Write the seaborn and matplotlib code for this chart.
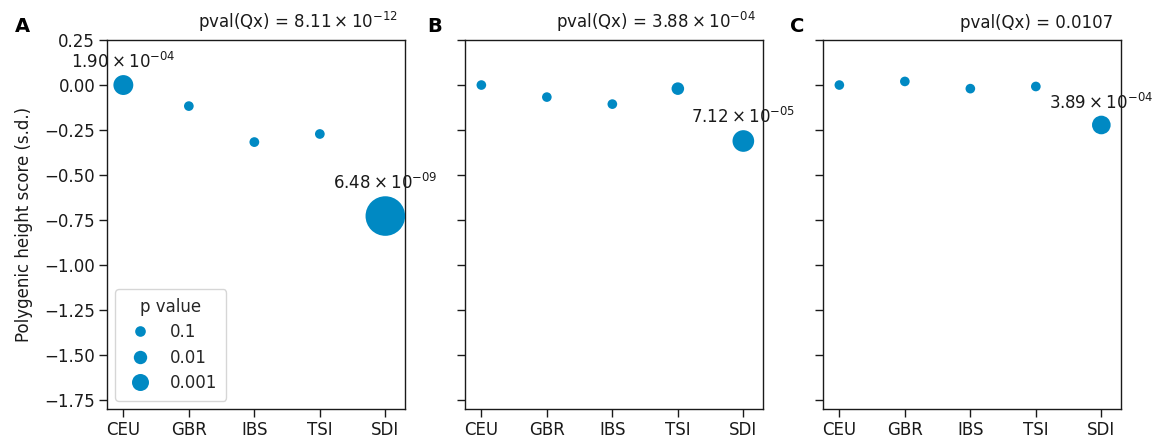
import numpy as np
import pandas as pd
import matplotlib
matplotlib.use("Agg")
import matplotlib.pyplot as plt
from matplotlib.lines import Line2D
import seaborn as sns

# ---------------- data ----------------
populations = ["CEU", "GBR", "IBS", "TSI", "SDI"]
panel_letters = ["A", "B", "C"]

scores_a = [0.00, -0.117, -0.317, -0.272, -0.728]
scores_b = [0.00, -0.067, -0.106, -0.020, -0.311]
scores_c = [0.00, 0.020, -0.020, -0.008, -0.222]

pvals_a = [1.90e-04, 0.45, 0.35, 0.40, 6.48e-09]
pvals_b = [0.50, 0.55, 0.45, 0.018, 7.12e-05]
pvals_c = [0.55, 0.50, 0.50, 0.45, 3.89e-04]

qx_pvals = [8.11e-12, 3.88e-04, 0.0107]

legend_pvals = [0.1, 0.01, 0.001]
label_threshold = 0.001

ytick_values = [0.25, 0.00, -0.25, -0.50, -0.75, -1.00, -1.25, -1.50, -1.75]

# ---------------- style ----------------
sns.set_style("ticks")
plt.rcParams["font.family"] = ["DejaVu Sans"]
plt.rcParams["mathtext.fontset"] = "dejavusans"
FS = 12
COLOR = "#0089C3"
TEXTC = "#1a1a1a"


def marker_area(p):
    L = -np.log10(p)
    return 0.5184 * (91.0 + 22.0 * L ** 2)


def sci(p):
    e = int(np.floor(np.log10(p)))
    m = p / 10.0 ** e
    return r"$%.2f \times 10^{%s}$" % (m, "%03d" % e if e < 0 else "%02d" % e)


def fmt_q(p):
    if p < 0.001:
        return "pval(Qx) = " + sci(p)
    return "pval(Qx) = %.4f" % p


fig, axes = plt.subplots(1, 3, sharey=True, figsize=(11.59, 4.45), dpi=100)
fig.subplots_adjust(left=0.0923, right=0.9672, bottom=0.081, top=0.910, wspace=0.2013)

all_scores = [scores_a, scores_b, scores_c]
all_pvals = [pvals_a, pvals_b, pvals_c]

for i, ax in enumerate(axes):
    df = pd.DataFrame({
        "pop": populations,
        "score": all_scores[i],
        "p": all_pvals[i],
    })
    df["area"] = marker_area(df["p"].values)
    sns.scatterplot(data=df, x="pop", y="score", size="area",
                    sizes=(0, 3000), size_norm=(0, 3000),
                    color=COLOR, linewidth=0, edgecolor="none",
                    legend=False, ax=ax, zorder=3)
    ax.set_xlim(-0.25, 4.3)
    ax.set_ylim(-1.8, 0.25)
    ax.set_yticks(ytick_values)
    ax.set_xlabel("")
    ax.set_ylabel("")
    ax.tick_params(labelsize=FS, colors=TEXTC, length=5.5, width=1.0, pad=3)
    for sp in ax.spines.values():
        sp.set_color(TEXTC)
        sp.set_linewidth(1.0)

    # annotations for significant points
    for j, row in df.iterrows():
        if row["p"] < label_threshold:
            r_pt = np.sqrt(row["area"]) / 2.0
            ax.annotate(sci(row["p"]), xy=(j, row["score"]),
                        xytext=(0, r_pt + 2.0), textcoords="offset points",
                        ha="center", va="bottom", fontsize=FS, color=TEXTC,
                        annotation_clip=False, zorder=4)

    ax.text(0.975, 1.034, fmt_q(qx_pvals[i]), transform=ax.transAxes,
            ha="right", va="baseline", fontsize=FS, color=TEXTC)

axes[0].set_ylabel("Polygenic height score (s.d.)", fontsize=FS, color=TEXTC,
                   labelpad=8)

# legend
handles = [Line2D([], [], marker="o", linestyle="", color=COLOR,
                  markeredgewidth=0, markersize=np.sqrt(marker_area(p)))
           for p in legend_pvals]
labels = ["%g" % p for p in legend_pvals]
leg = axes[0].legend(handles, labels, title="p value", loc="lower left",
                     fontsize=FS, title_fontsize=FS, frameon=True,
                     labelspacing=0.45, borderpad=0.5)

# panel letters
for ax, letter, xpos in zip(axes, panel_letters, [0.013, 0.369, 0.682]):
    fig.text(xpos, 0.928, letter, fontsize=14, fontweight="bold",
             ha="left", va="baseline", color="black")

fig.savefig("out.png", dpi=100)
